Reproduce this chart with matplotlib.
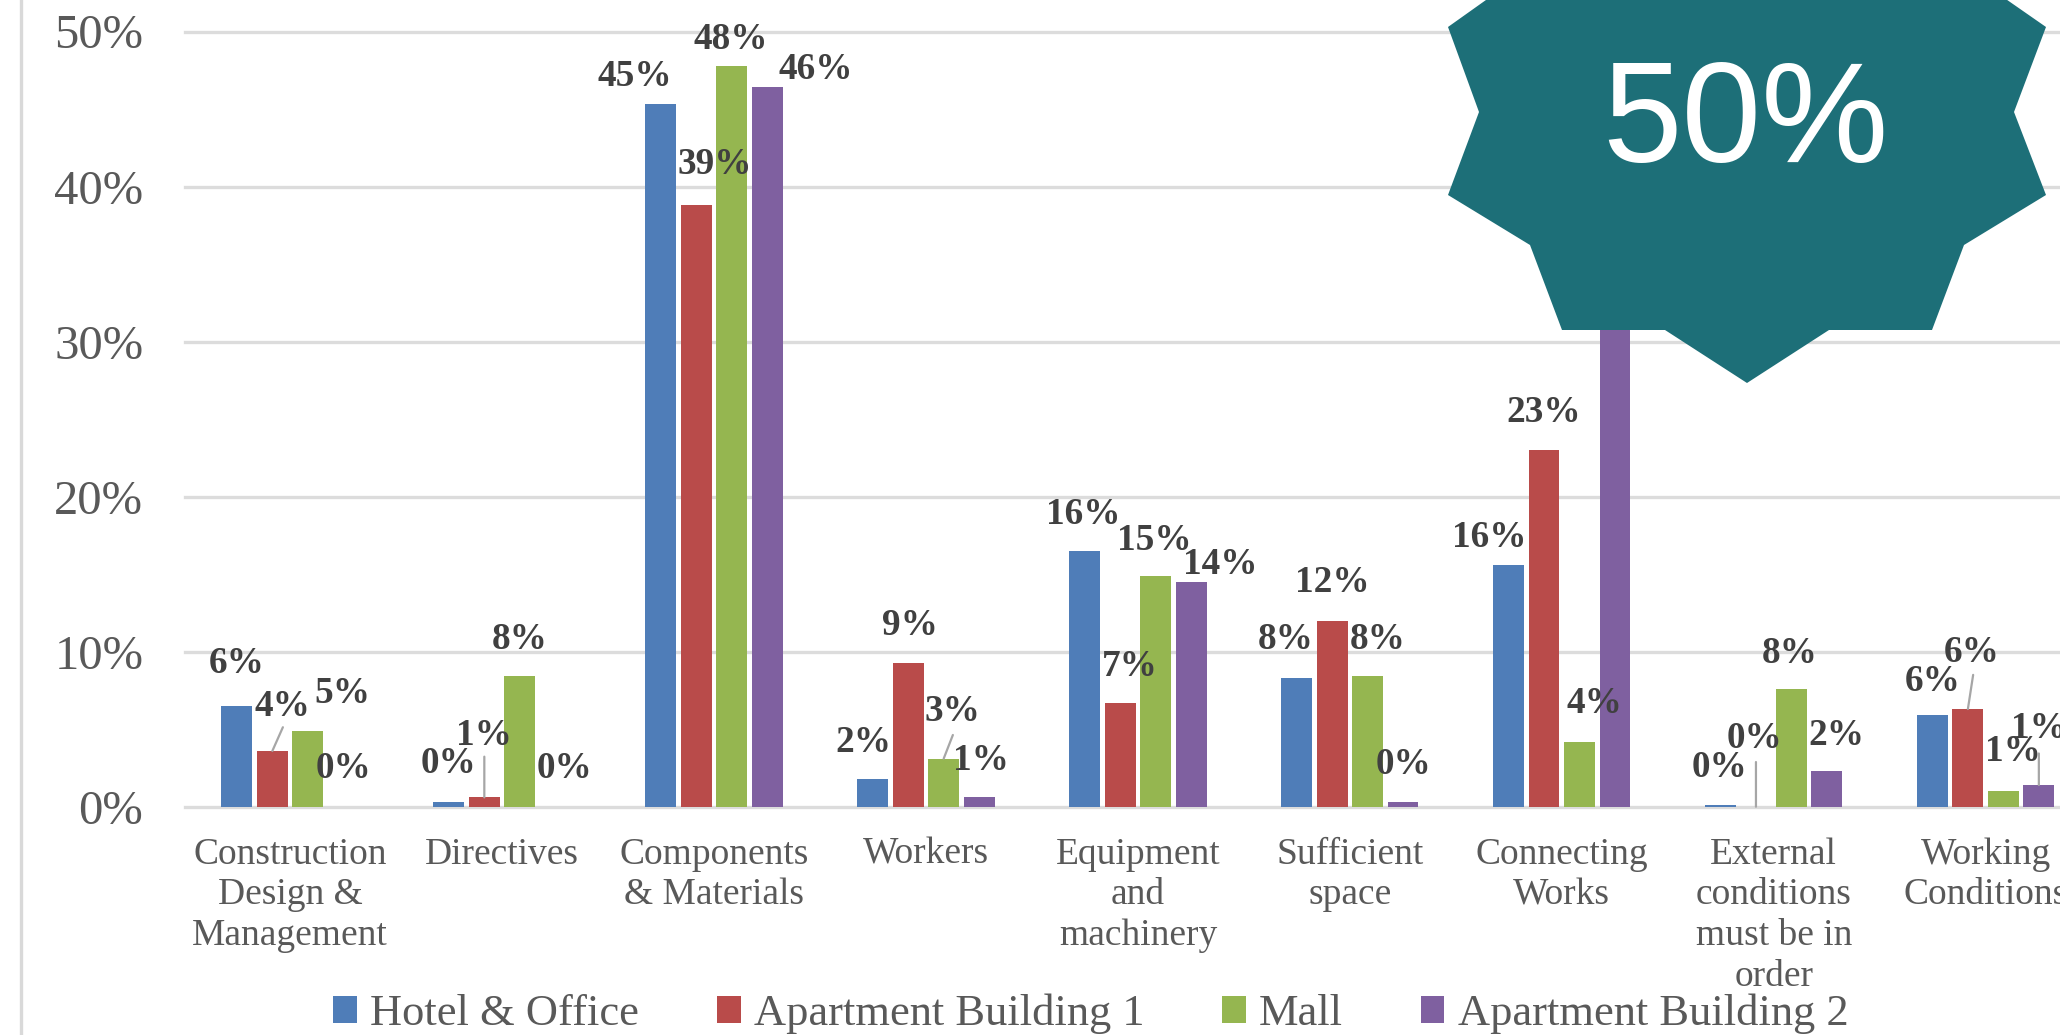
import matplotlib
matplotlib.use("Agg")
import numpy as np
import matplotlib.pyplot as plt
from matplotlib.lines import Line2D
from matplotlib.patches import Polygon
from matplotlib.transforms import IdentityTransform

# === data ===
categories = [
    "Construction\nDesign &\nManagement", "Directives", "Components\n& Materials",
    "Workers", "Equipment\nand\nmachinery", "Sufficient\nspace", "Connecting\nWorks",
    "External\nconditions\nmust be in\norder", "Working\nConditions",
]
series_names = ["Hotel & Office", "Apartment Building 1", "Mall", "Apartment Building 2"]
hotel_office = [6.5, 0.3, 45.3, 1.8, 16.5, 8.3, 15.6, 0.1, 5.9]
apartment_1 = [3.6, 0.6, 38.8, 9.3, 6.7, 12.0, 23.0, 0.0, 6.3]
mall = [4.9, 8.4, 47.8, 3.1, 14.9, 8.4, 4.2, 7.6, 1.0]
# top of the Connecting Works purple bar is hidden by the badge, so it is a guess
apartment_2 = [0.0, 0.0, 46.4, 0.6, 14.5, 0.3, 36.0, 2.3, 1.4]
y_ticks = [0, 10, 20, 30, 40, 50]

# === styles and hand placed things ===
colors = ["#4f7db8", "#b94b4a", "#95b650", "#7f60a0"]
SCALE = 2060 / 1568
GROUP_PITCH = 27 / 161.3
BAR_WIDTH = 23.5 / 161.3

# label offset from the bar top in the 1568 wide picture, one row per series
label_dx = [
    [0, 0, -20, -7, -1, -8, -15, -1, 0],
    [7.5, 0, 14, 1, 7, 0, 0, -1, 3],
    [26.5, 0, -1, 7, -1, 8, 11, -1, 7],
    [0, 7, 37, 1, 22, 0, 0, 7, 0],
]
label_dy = [
    [32, 29.5, 21.5, 28, 28, 29, 21, 29, 26],
    [33.5, 47, 31, 28, 28, 29, 28.6, 52, 43],
    [28, 28, 20, 36, 27, 28, 29, 27, 30],
    [29, 29, 13.5, 28, 13, 28.5, 28, 27, 43],
]
# leader lines: series, group, dx, dy of the free end
leaders = [(1, 0, 8, 18), (1, 1, 0, 31), (2, 3, 7, 18), (1, 7, 0, 34), (1, 8, 4, 26), (3, 8, 0, 24)]

all_series = [hotel_office, apartment_1, mall, apartment_2]

fig = plt.figure(figsize=(20.6, 10.35), dpi=100, facecolor="white")
ax = fig.add_axes([185 / 2060, (1035 - 806.7) / 1035, 1 - 185 / 2060, (806.7 - 31.5) / 1035])

x = np.arange(len(categories))
for i, values in enumerate(all_series):
    offs = x + (i - 1.5) * GROUP_PITCH
    ax.bar(offs, values, BAR_WIDTH, color=colors[i], label=series_names[i], zorder=3)
    for j, v in enumerate(values):
        ax.annotate(f"{v:.0f}%", xy=(offs[j], v),
                    xytext=(label_dx[i][j] * SCALE, label_dy[i][j] * SCALE),
                    textcoords="offset pixels", ha="center", va="center",
                    family="Liberation Serif", weight="bold", fontsize=26.8,
                    color="#404040", zorder=5, annotation_clip=False)

for s, g, dx, dy in leaders:
    ax.annotate("", xy=(x[g] + (s - 1.5) * GROUP_PITCH, all_series[s][g]),
                xytext=(dx * SCALE, dy * SCALE), textcoords="offset pixels",
                arrowprops=dict(arrowstyle="-", color="#a6a6a6", lw=1.6, shrinkA=0, shrinkB=0),
                zorder=4)

ax.set_xlim(-0.496, (1568 - 221) / 161.3)
ax.set_ylim(0, 50)
ax.set_yticks(y_ticks)
ax.set_yticklabels([f"{t}%" for t in y_ticks], family="Liberation Serif", fontsize=35, color="#595959")
ax.set_xticks(x)
ax.set_xticklabels(categories, family="Liberation Serif", fontsize=27, color="#595959", linespacing=1.23)
ax.tick_params(axis="both", length=0)
ax.tick_params(axis="y", pad=30)
ax.tick_params(axis="x", pad=22)
ax.grid(axis="y", color="#dcdcdc", lw=2.4, zorder=0)
ax.set_axisbelow(True)
for sp in ax.spines.values():
    sp.set_visible(False)
for gl in ax.get_ygridlines():
    gl.set_clip_on(False)

fig.legend(loc="center", bbox_to_anchor=(1091 / 2060, (1035 - 1014) / 1035), ncol=4, frameon=False,
           prop={"family": "Liberation Serif", "size": 32}, labelcolor="#595959",
           handlelength=0.53, handleheight=0.53, handletextpad=0.3, columnspacing=1.75,
           borderpad=0, borderaxespad=0)

# left border of the slide
fig.add_artist(Line2D([21 / 2060, 21 / 2060], [0, 1], color="#d9d9d9", lw=2.4))

# badge on top of the chart, outline in pixels of the full picture
badge_x = [1448, 1493, 2000, 2046, 2014, 2046, 1964, 1932, 1829, 1747, 1665, 1562, 1530, 1448, 1479]
badge_y = [27, -5, -5, 27, 112, 195, 245, 330, 330, 383, 330, 330, 245, 195, 112]
badge = Polygon(np.column_stack([badge_x, 1035 - np.array(badge_y)]), closed=True,
                facecolor="#1d6f78", edgecolor="none", transform=IdentityTransform(), zorder=10)
fig.add_artist(badge)
fig.text(1745 / 2060, (1035 - 125) / 1035, "50%", family="Liberation Sans", fontsize=103,
         color="white", ha="center", va="center", zorder=11)

fig.savefig("out.png", dpi=100)
